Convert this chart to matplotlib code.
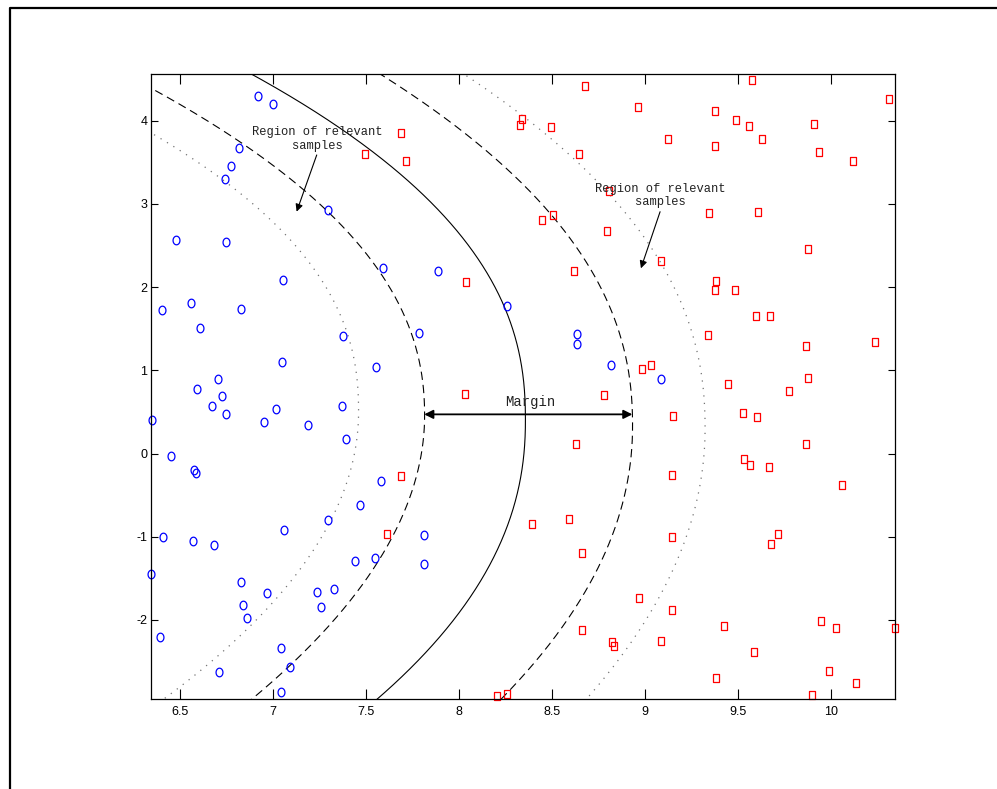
import numpy as np
import matplotlib
matplotlib.use("Agg")
import matplotlib.pyplot as plt
from matplotlib.path import Path
from matplotlib.lines import Line2D

# ---------------- data ----------------
blue_x = [6.918, 7.002, 6.816, 6.776, 6.740, 7.294, 6.477, 6.749, 7.590, 7.055,
          7.889, 8.258, 6.402, 6.558, 6.830, 6.606, 7.378, 7.048, 7.554, 6.703,
          6.590, 6.726, 6.672, 6.747, 7.018, 7.371, 6.351, 6.950, 7.188, 7.392,
          6.452, 6.575, 6.588, 7.579, 7.787, 8.634, 8.634, 8.816, 9.084, 7.466,
          7.294, 6.407, 6.572, 6.684, 7.058, 7.442, 7.547, 6.342, 6.830, 6.969,
          7.238, 7.326, 6.839, 7.260, 6.862, 6.391, 7.045, 7.090, 6.708, 7.045,
          7.812, 7.813]
blue_y = [4.300, 4.200, 3.675, 3.459, 3.296, 2.930, 2.570, 2.542, 2.233, 2.085,
          2.197, 1.776, 1.725, 1.805, 1.733, 1.512, 1.409, 1.103, 1.040, 0.892,
          0.779, 0.695, 0.567, 0.471, 0.538, 0.571, 0.399, 0.375, 0.343, 0.171,
          -0.026, -0.202, -0.238, -0.334, 1.445, 1.433, 1.313, 1.067, 0.892, -0.623,
          -0.799, -1.000, -1.048, -1.096, -0.920, -1.292, -1.256, -1.452, -1.541, -1.677,
          -1.665, -1.625, -1.825, -1.845, -1.977, -2.206, -2.338, -2.566, -2.626, -2.870,
          -0.980, -1.332]

red_x = [8.676, 8.962, 8.339, 8.328, 8.493, 7.688, 7.713, 8.647, 8.808, 8.445,
         8.504, 8.796, 8.617, 8.036, 7.495, 9.574, 10.310, 9.375, 9.488, 9.559,
         9.910, 9.124, 9.376, 9.629, 9.935, 10.118, 9.342, 9.608, 9.876, 9.088,
         9.382, 9.375, 9.486, 9.598, 9.672, 9.340, 9.866, 10.235, 9.032, 8.986,
         9.446, 9.876, 9.774, 9.151, 9.527, 9.601, 9.864, 9.531, 9.566, 9.665,
         9.147, 10.058, 8.034, 8.780, 8.631, 7.687, 7.611, 8.391, 8.590, 8.661,
         8.966, 8.663, 8.823, 8.832, 8.204, 8.256, 9.147, 9.713, 9.679, 9.147,
         9.425, 9.086, 9.945, 10.027, 10.346, 9.584, 9.380, 9.988, 10.136, 9.899]
red_y = [4.417, 4.165, 4.020, 3.952, 3.921, 3.849, 3.519, 3.600, 3.155, 2.810,
         2.863, 2.678, 2.194, 2.061, 3.600, 4.489, 4.261, 4.113, 4.012, 3.933,
         3.960, 3.784, 3.692, 3.780, 3.624, 3.519, 2.894, 2.906, 2.458, 2.310,
         2.070, 1.965, 1.962, 1.656, 1.649, 1.421, 1.296, 1.340, 1.064, 1.012,
         0.835, 0.911, 0.755, 0.451, 0.487, 0.439, 0.118, -0.066, -0.138, -0.159,
         -0.258, -0.382, 0.712, 0.700, 0.118, -0.274, -0.971, -0.847, -0.791, -1.196,
         -1.740, -2.125, -2.262, -2.310, -2.918, -2.894, -1.007, -0.964, -1.091, -1.877,
         -2.073, -2.250, -2.010, -2.101, -2.101, -2.382, -2.695, -2.614, -2.758, -2.903]

# boundary curves: vertex x, centre y, upper (k, p), lower (k, p)
curve_names = ["inner dotted", "inner dashed", "boundary", "outer dashed", "outer dotted"]
curve_vertex = [7.46, 7.815, 8.357, 8.933, 9.323]
curve_centre = [0.50, 0.45, 0.40, 0.33, 0.30]
curve_k_top = [0.069, 0.072, 0.0555, 0.0552, 0.0512]
curve_p_top = [2.3, 2.2, 2.3, 2.22, 2.23]
curve_k_bot = [0.088, 0.0833, 0.0578, 0.0626, 0.0597]
curve_p_bot = [2.0, 1.97, 2.17, 2.04, 2.01]

x_ticks = [6.5, 7, 7.5, 8, 8.5, 9, 9.5, 10]
x_tick_labels = ["6.5", "7", "7.5", "8", "8.5", "9", "9.5", "10"]
y_ticks = [-2, -1, 0, 1, 2, 3, 4]
y_tick_labels = ["-2", "-1", "0", "1", "2", "3", "4"]

margin_left, margin_right, margin_y = 7.813, 8.932, 0.471
margin_text_xy = (8.382, 0.623)
region_left_text = (7.237, 3.78)
region_left_arrow = ((7.235, 3.588), (7.127, 2.907))
region_right_text = (9.082, 3.10)
region_right_arrow = ((9.081, 2.906), (8.978, 2.226))

# ---------------- figure ----------------
W, H = 997, 789
fig = plt.figure(figsize=(W / 100, H / 100), dpi=100)
ax = fig.add_axes([151 / W, 1 - 699.3 / H, (895 - 151) / W, (699.3 - 74) / H])
ax.set_xlim(6.344, 10.344)
ax.set_ylim(-2.953, 4.561)

# figure frame (top and left edges visible)
fig.add_artist(Line2D([10 / W, 10 / W, 1.0], [0.0, 1 - 8 / H, 1 - 8 / H],
                      transform=fig.transFigure, color="k", lw=1.6))

# curves
yy = np.linspace(-3.5, 5.0, 800)
styles = [dict(ls=(0, (1.0, 5.0)), color="0.45", lw=0.9),
          dict(ls=(0, (7.5, 4.5)), color="k", lw=0.8),
          dict(ls="-", color="k", lw=0.8),
          dict(ls=(0, (7.5, 4.5)), color="k", lw=0.8),
          dict(ls=(0, (1.0, 5.0)), color="0.45", lw=0.9)]
for i in range(len(curve_names)):
    u = yy - curve_centre[i]
    d = np.where(u >= 0, curve_k_top[i] * np.abs(u) ** curve_p_top[i],
                 curve_k_bot[i] * np.abs(u) ** curve_p_bot[i])
    ax.plot(curve_vertex[i] - d, yy, **styles[i])

# markers
t = np.linspace(0, 2 * np.pi, 40)
ellipse = Path(np.column_stack([0.80 * np.cos(t), np.sin(t)]), closed=True)
rect = Path([(-0.72, -1), (0.72, -1), (0.72, 1), (-0.72, 1), (-0.72, -1)], closed=True)
ax.plot(blue_x, blue_y, ls="none", marker=ellipse, ms=6.2, mfc="none",
        mec="#0000ff", mew=0.9, clip_on=False)
ax.plot(red_x, red_y, ls="none", marker=rect, ms=5.2, mfc="none",
        mec="#ff0000", mew=0.9, clip_on=False)

# annotations
mono = ["Liberation Mono", "DejaVu Sans Mono"]
ax.text(*region_left_text, "Region of relevant\nsamples", ha="center", va="center",
        family=mono, fontsize=8.7, linespacing=1.15, color="#222222")
ax.annotate("", xy=region_left_arrow[1], xytext=region_left_arrow[0],
            arrowprops=dict(arrowstyle="-|>", color="k", lw=0.8,
                            mutation_scale=11, shrinkA=0, shrinkB=0))
ax.text(*region_right_text, "Region of relevant\nsamples", ha="center", va="center",
        family=mono, fontsize=8.7, linespacing=1.15, color="#222222")
ax.annotate("", xy=region_right_arrow[1], xytext=region_right_arrow[0],
            arrowprops=dict(arrowstyle="-|>", color="k", lw=0.8,
                            mutation_scale=11, shrinkA=0, shrinkB=0))
ax.annotate("", xy=(margin_left, margin_y), xytext=(margin_right, margin_y),
            arrowprops=dict(arrowstyle="<|-|>", color="k", lw=1.3,
                            mutation_scale=13, shrinkA=0, shrinkB=0))
ax.text(*margin_text_xy, "Margin", ha="center", va="center", family=mono,
        fontsize=10, color="#222222")

# axes styling
ax.set_xticks(x_ticks)
ax.set_xticklabels(x_tick_labels)
ax.set_yticks(y_ticks)
ax.set_yticklabels(y_tick_labels)
sans = ["Liberation Sans Narrow", "Liberation Sans", "DejaVu Sans"]
for lab in ax.get_xticklabels() + ax.get_yticklabels():
    lab.set_family(sans)
    lab.set_fontsize(9)
ax.tick_params(axis="both", direction="in", top=True, right=True, width=0.8, colors="k")
ax.tick_params(axis="x", length=7.5, pad=5)
ax.tick_params(axis="y", length=5, pad=2.5)
for s in ax.spines.values():
    s.set_linewidth(0.9)

fig.savefig("out.png", dpi=100)
